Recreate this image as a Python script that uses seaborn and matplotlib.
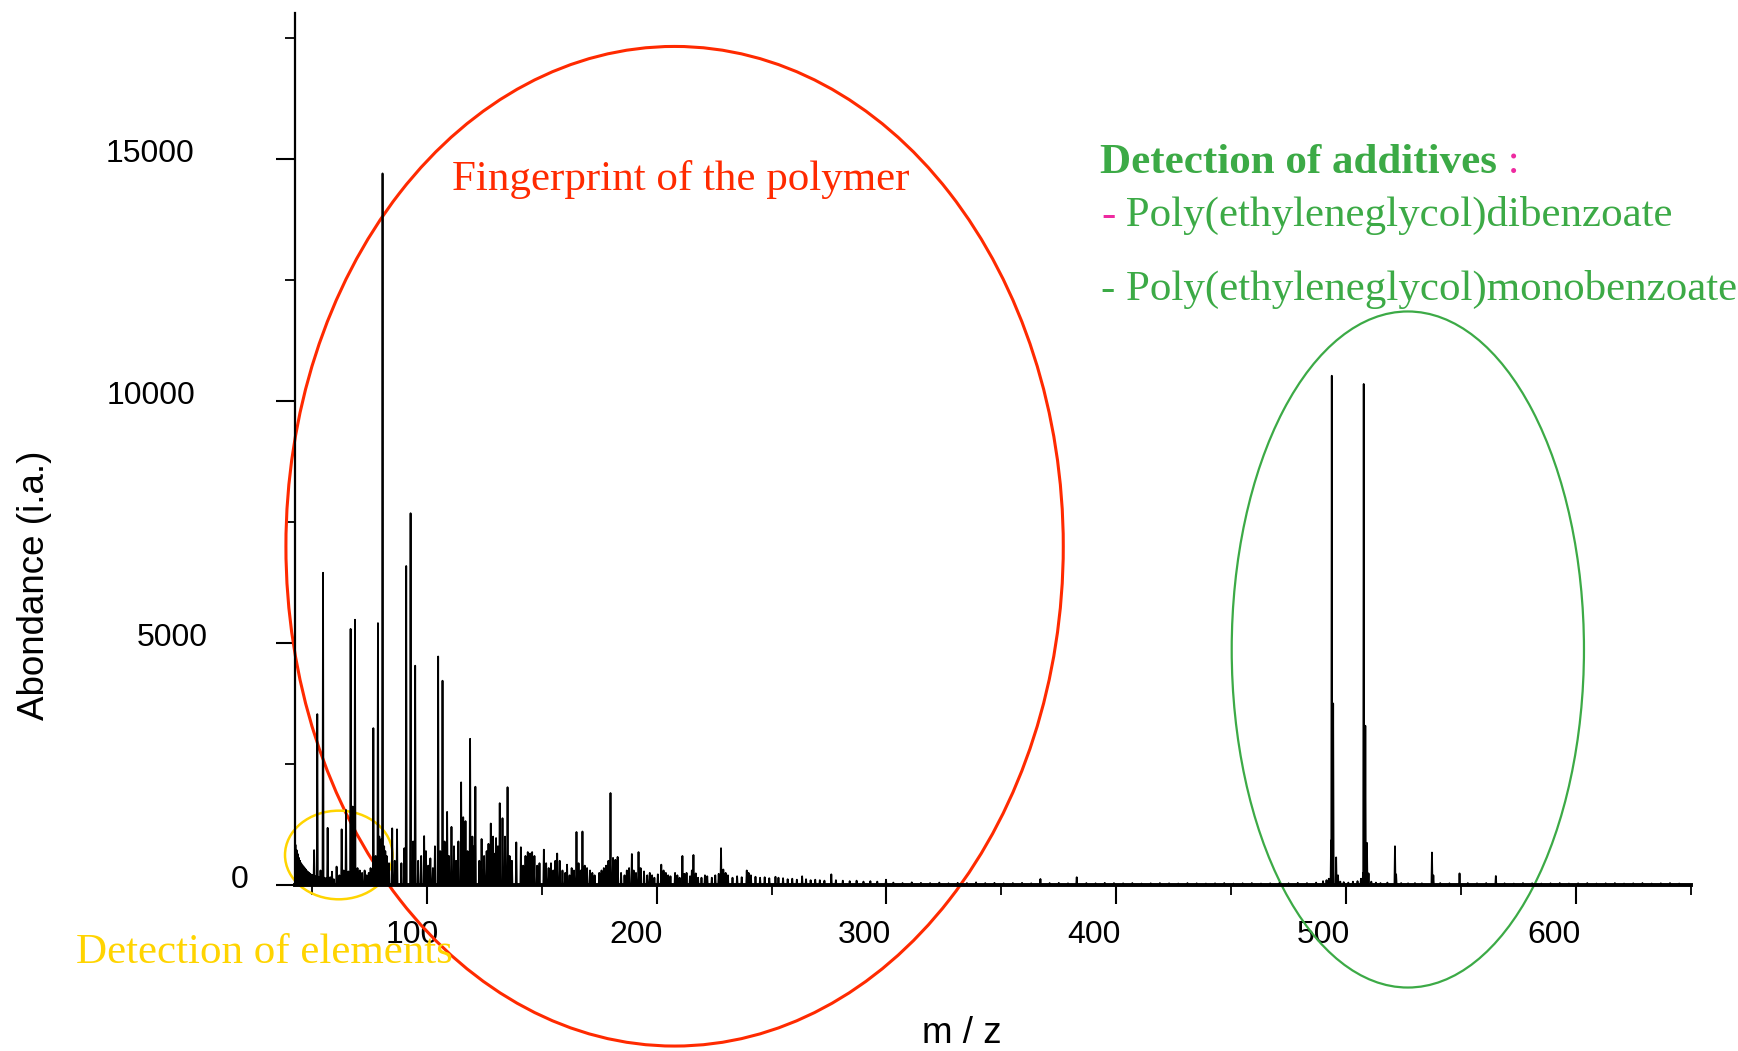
import numpy as np
import pandas as pd
import matplotlib
matplotlib.use("Agg")
import matplotlib.pyplot as plt
import seaborn as sns
from matplotlib.patches import Ellipse
from matplotlib.transforms import ScaledTranslation

# ---------------- data ----------------
# main peaks
major_mz = [52.3, 54.8, 56.8, 62.9, 64.8, 66.8, 67.7, 68.7, 76.7, 78.7, 80.7,
            84.9, 87.0, 91.0, 92.9, 94.9, 104.9, 106.8, 108.8, 110.7, 114.9,
            116.8, 118.8, 121.1, 127.8, 131.7, 132.9, 135.1, 165.1, 167.7,
            179.9, 228.0,
            493.8, 494.4, 507.7, 508.4, 521.3, 537.4]
major_h = [3530, 6450, 1180, 1150, 1550, 5290, 1620, 5480, 3240, 5410, 14700,
           1170, 1150, 6590, 7680, 4530, 4720, 4220, 1510, 1200, 2120,
           1320, 3020, 2030, 1270, 1690, 1380, 2020, 1095, 1105,
           1900, 760,
           10520, 3750, 10350, 3290, 800, 670]

# low-mass hump (detection of elements)
hump_mz = [42.8, 43.3, 43.8, 44.3, 44.8, 45.3, 45.8, 46.3, 46.8, 47.3, 47.8,
           48.3, 48.8, 49.3, 49.8, 50.3, 50.9, 51.5, 52.8, 53.7, 55.5, 56.3,
           57.5, 57.9, 58.7, 59.5, 60.7, 61.5, 61.9]
hump_h = [830, 720, 640, 560, 500, 450, 410, 380, 350, 320, 290,
          270, 250, 230, 210, 200, 720, 180, 170, 300, 150, 140,
          130, 160, 275, 120, 380, 110, 200]

# minor peaks of the polymer fingerprint
minor_mz = [63.8, 65.8, 69.8, 70.8, 71.8, 72.9, 73.8, 74.7, 75.5, 77.7, 79.3,
            79.8, 80.2, 81.4, 81.9, 82.5, 83.5, 86.0, 88.9, 90.2, 94.0, 96.2,
            97.5, 98.8, 99.6, 100.6, 101.5, 102.6, 103.5, 105.8, 107.7, 109.6,
            111.8, 112.7, 113.7, 115.8, 117.7, 119.8, 120.5, 122.8, 123.8,
            124.9, 126.0, 126.8, 128.8, 129.7, 130.1, 130.9, 134.0, 136.0,
            137.0, 138.9, 140.9, 141.9, 142.9, 143.9, 144.9, 145.8, 146.8,
            148.0, 149.0, 150.9, 151.9, 153.0, 154.0, 155.0, 155.9, 156.7,
            157.8, 159.0, 160.2, 161.0, 162.1, 163.0, 164.0, 166.0, 167.0,
            168.7, 169.7, 171.0, 172.0, 173.0, 175.0, 176.0, 177.0, 178.0,
            179.0, 181.0, 182.0, 183.0, 184.5, 186.0, 187.0, 188.0, 189.2,
            190.0, 191.0, 192.1, 193.0, 194.5, 195.9, 197.0, 198.0, 199.0,
            200.5, 202.0, 203.0, 204.0, 205.0, 206.0, 208.0, 209.0, 210.0,
            211.2, 212.0, 213.0, 214.5, 215.3, 216.0, 217.0, 218.0, 219.5,
            221.0, 222.0, 224.0, 225.5, 227.0, 229.0, 230.0, 231.0, 233.0,
            235.0, 237.0, 239.2, 240.0, 241.0, 243.0, 245.0, 247.0, 249.0,
            251.7, 253.0, 255.0, 257.0, 259.0, 261.0, 263.3, 265.0, 267.0,
            269.0, 271.0, 273.0, 276.0, 278.0, 281.0, 284.0, 287.0, 290.0,
            293.0, 296.0, 299.8]
minor_h = [300, 280, 350, 300, 250, 300, 200, 250, 350, 600, 1000,
           900, 950, 800, 700, 600, 450, 500, 450, 760, 900, 500,
           600, 1010, 700, 400, 550, 350, 800, 700, 900, 600,
           800, 500, 900, 1400, 700, 1000, 800, 500, 950,
           600, 700, 850, 1000, 650, 970, 800, 1000, 600,
           500, 880, 780, 400, 600, 680, 650, 680, 600,
           400, 450, 730, 450, 350, 450, 300, 500, 650,
           500, 300, 250, 420, 200, 350, 300, 450, 300,
           400, 350, 300, 250, 200, 250, 300, 350, 400,
           500, 560, 520, 580, 250, 200, 300, 350, 640,
           300, 250, 680, 350, 280, 200, 250, 200, 150,
           220, 420, 300, 250, 200, 180, 250, 200, 150,
           600, 230, 250, 180, 300, 620, 240, 150, 150,
           200, 180, 150, 200, 230, 320, 250, 200, 150,
           180, 160, 300, 250, 200, 170, 150, 160, 140,
           170, 150, 140, 120, 130, 110, 180, 120, 100,
           110, 100, 90, 220, 100, 90, 80, 90, 70,
           80, 70, 110]

# baseline noise and additive satellites at high mass
high_mz = [303, 307, 311, 315, 319, 323, 327, 331, 335, 339, 343, 347, 351,
           355, 359, 363, 367, 371, 375, 379, 382.8, 387, 391, 395, 399, 403,
           407, 411, 415, 419, 423, 427, 431, 435, 439, 443, 447, 451, 455,
           459, 463, 467, 471, 475, 479, 483, 487, 490, 491.5, 492.5, 493.5,
           495.7, 496.5, 497.5, 499, 501, 503, 505, 506.5, 507.4, 509.1,
           509.8, 511, 513, 515, 518, 521.8, 524, 527, 530, 533, 538, 541,
           545, 549.4, 553, 557, 561, 565.2, 569, 573, 577, 581, 585, 589,
           593, 597, 601, 605, 609, 613, 617, 621, 625, 629, 633, 637, 641,
           645]
high_h = [50, 40, 55, 45, 40, 50, 35, 45, 40, 55, 40, 45, 35,
          40, 45, 35, 125, 40, 45, 35, 160, 40, 35, 45, 40, 35,
          40, 30, 35, 40, 35, 30, 40, 35, 30, 35, 40, 30, 35,
          40, 30, 35, 40, 35, 45, 40, 50, 80, 100, 130, 920,
          570, 200, 70, 60, 50, 70, 80, 130, 250, 870,
          240, 70, 50, 40, 50, 220, 40, 35, 40, 35, 200, 40,
          35, 240, 40, 35, 40, 185, 35, 30, 40, 35, 30, 35,
          40, 30, 35, 40, 30, 35, 40, 30, 35, 40, 30, 35, 40,
          30]

xticks_major = [100, 200, 300, 400, 500, 600]
xticks_minor = [50, 150, 250, 350, 450, 550, 650]
yticks_major = [0, 5000, 10000, 15000]
yticks_minor = [2500, 7500, 12500, 17500]

# ---------------- build profile ----------------
all_mz = major_mz + hump_mz + minor_mz + high_mz
all_h = major_h + hump_h + minor_h + high_h
peaks = pd.DataFrame({"mz": all_mz, "h": all_h}).sort_values("mz").reset_index(drop=True)
half = 0.22
xs = np.column_stack([peaks.mz - half, peaks.mz, peaks.mz + half]).ravel()
ys = np.column_stack([np.zeros(len(peaks)), peaks.h, np.zeros(len(peaks))]).ravel()
profile = pd.DataFrame({"m / z": xs, "Abondance (i.a.)": ys})

# ---------------- figure ----------------
sns.set_theme(style="ticks")
plt.rcParams["font.family"] = ["Liberation Sans", "DejaVu Sans"]

W, H = 1738, 1051
fig = plt.figure(figsize=(W / 100, H / 100), dpi=100)
ax = fig.add_axes([295 / W, 166 / H, 1395.7 / W, 872.3 / H])

sns.lineplot(data=profile, x="m / z", y="Abondance (i.a.)", sort=False,
             estimator=None, color="black", lw=1.3, ax=ax)

ax.set_xlim(42.6, 649.5)
ax.set_ylim(0, 18020)
for s in ["top", "right"]:
    ax.spines[s].set_visible(False)
ax.spines["left"].set_linewidth(1.6)
ax.spines["bottom"].set_linewidth(2.8)
ax.spines["left"].set_color("black")
ax.spines["bottom"].set_color("black")

ax.set_xticks(xticks_major)
ax.set_xticks(xticks_minor, minor=True)
ax.set_yticks(yticks_major)
ax.set_yticks(yticks_minor, minor=True)
ax.set_xticklabels([str(v) for v in xticks_major])
ax.set_yticklabels([str(v) for v in yticks_major])
ax.tick_params(axis="both", which="major", length=13.5, width=1.5,
               color="black", labelsize=23, labelcolor="black", direction="out")
ax.tick_params(axis="both", which="minor", length=7, width=1.3,
               color="black", direction="out")
ax.tick_params(axis="x", which="major", pad=12)
ax.tick_params(axis="y", which="major", pad=20)

# per-label offsets as in the original
x_dx = [-15, -21, -22, -22, -23, -22]
for lab, dx in zip(ax.get_xticklabels(), x_dx):
    lab.set_transform(lab.get_transform() + ScaledTranslation(dx / 100, 0, fig.dpi_scale_trans))
y_dx = [0, -41, -53, -54]
for lab, dx in zip(ax.get_yticklabels(), y_dx):
    lab.set_transform(lab.get_transform() + ScaledTranslation(dx / 100, 8 / 100, fig.dpi_scale_trans))

ax.set_xlabel("m / z", fontsize=26.5, color="black")
ax.set_ylabel("Abondance (i.a.)", fontsize=26.5, color="black")
ax.xaxis.set_label_coords(0.478, -0.170)
ax.xaxis.label.set_va("center")
ax.yaxis.set_label_coords(-0.187, 0.344)
ax.yaxis.label.set_va("center")

# ---------------- annotations ----------------
red = "#ff2a00"
green = "#3caa46"
yellow = "#ffd400"
magenta = "#ee2aa0"

ax.add_patch(Ellipse((207.8, 6998), 338.3, 20650, fill=False, ec=red, lw=2.2, clip_on=False))
ax.add_patch(Ellipse((526.9, 4865), 153.3, 13966, fill=False, ec=green, lw=1.6, clip_on=False))
ax.add_patch(Ellipse((61.65, 620), 46.8, 1831, fill=False, ec=yellow, lw=1.8, clip_on=False))

serif = ["Liberation Serif", "DejaVu Serif"]
fs = 31

def fx(px):
    return px / W

def fy(py):
    return 1 - py / H

fig.text(fx(452), fy(190), "Fingerprint of the polymer", color=red, fontsize=fs,
         family=serif, ha="left", va="baseline")
fig.text(fx(76), fy(963), "Detection of elements", color=yellow, fontsize=fs,
         family=serif, ha="left", va="baseline")

t1 = fig.text(fx(1100), fy(173), "Detection of additives", color=green, fontsize=fs,
              family=serif, weight="bold", ha="left", va="baseline")
ax.annotate(" :", xy=(1, 0), xycoords=t1, color=magenta, fontsize=fs,
            family=serif, ha="left", va="bottom", annotation_clip=False)

t2 = fig.text(fx(1101), fy(226), "-", color=magenta, fontsize=fs,
              family=serif, ha="left", va="baseline")
ax.annotate(" Poly(ethyleneglycol)dibenzoate", xy=(1, 0), xycoords=t2, color=green,
            fontsize=fs, family=serif, ha="left", va="bottom", annotation_clip=False)
fig.text(fx(1101), fy(300), "- Poly(ethyleneglycol)monobenzoate", color=green,
         fontsize=fs, family=serif, ha="left", va="baseline")

fig.savefig("out.png", dpi=100)
